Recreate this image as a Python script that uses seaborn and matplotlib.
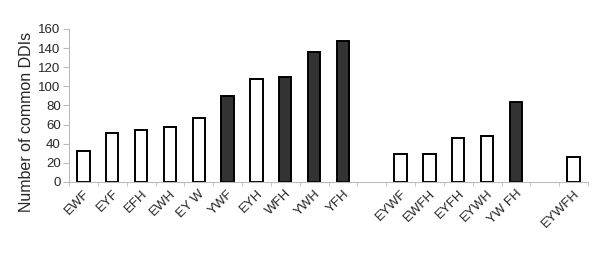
#!/usr/bin/env python3

import numpy as np
import matplotlib
matplotlib.use("Agg")
import matplotlib.pyplot as plt
import pandas as pd
import seaborn as sns

sns.set_style("white")
plt.rcParams['font.family'] = ['Liberation Sans', 'DejaVu Sans']

# blanks ("" and " ") are the empty gaps between groups
combos = ['EWF', 'EYF', 'EFH', 'EWH', 'EY W', 'YWF', 'EYH', 'WFH', 'YWH', 'YFH',
          '', 'EYWF', 'EWFH', 'EYFH', 'EYWH', 'YW FH', ' ', 'EYWFH']
ddis = [32, 51, 54, 57, 67, 90, 108, 110, 136, 147,
        np.nan, 29, 29, 46, 48, 84, np.nan, 26]
dark = [False, False, False, False, False, True, False, True, True, True,
        False, False, False, False, False, True, False, False]


def main():
    data = pd.DataFrame({'combo': combos, 'ddis': ddis})
    palette = {c: ('#333333' if d else 'white') for c, d in zip(combos, dark)}

    fig = plt.figure(figsize=(6, 2.66), dpi=100)
    ax = fig.add_axes([0.115, 0.316, 0.865, 0.575])

    sns.barplot(data=data, x='combo', y='ddis', hue='combo', order=combos,
                palette=palette, legend=False, width=0.43,
                edgecolor='black', linewidth=1.4, ax=ax)

    ax.set_ylim(0, 160)
    ax.set_xlim(-0.5, len(combos) - 0.5)
    ax.set_yticks(range(0, 161, 20))
    ax.tick_params(axis='y', labelsize=9.5, length=4, color='#bbbbbb',
                   direction='out', left=True, pad=2)
    ax.set_xticks(range(len(combos)))
    ax.set_xticklabels(combos, rotation=45, ha='right', rotation_mode='anchor',
                       fontsize=9.5)
    ax.tick_params(axis='x', length=0, pad=4)
    ax.set_xticks(np.arange(-0.5, len(combos), 1), minor=True)
    ax.tick_params(axis='x', which='minor', length=3, color='#bbbbbb',
                   direction='out', bottom=True)

    sns.despine(ax=ax)
    ax.spines['left'].set_color('#bbbbbb')
    ax.spines['bottom'].set_color('#bbbbbb')

    ax.set_xlabel('')
    ax.set_ylabel('Number of common DDIs', fontsize=11.5)
    # label sits a bit lower than the axis centre in the original
    ax.yaxis.set_label_coords(-0.068, 0.39)

    fig.savefig('out.png', dpi=100)


if __name__ == "__main__":
    main()
